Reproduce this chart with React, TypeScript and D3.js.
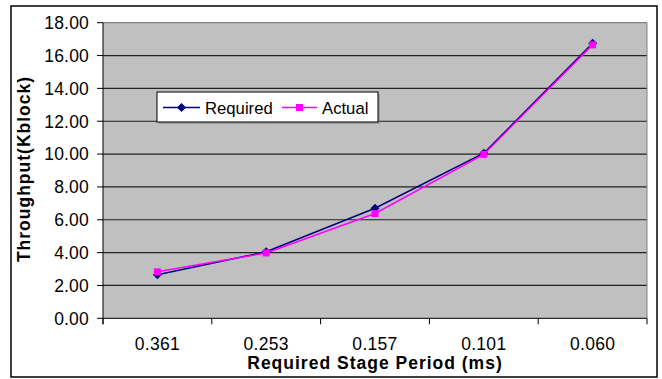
import React from "react";
import * as d3 from "d3";

const categories = ["0.361", "0.253", "0.157", "0.101", "0.060"];
const required = [2.65, 4.05, 6.7, 10.05, 16.75];
const actual = [2.83, 3.98, 6.38, 9.98, 16.65];
const yTicks = [0, 2, 4, 6, 8, 10, 12, 14, 16, 18];

const W = 662;
const H = 379;
const plot = { left: 103, top: 22.7, right: 647, bottom: 318.3 };
const font = "Arial, 'Liberation Sans', sans-serif";

export default function App() {
  const x = d3
    .scaleBand<string>()
    .domain(categories)
    .range([plot.left, plot.right])
    .paddingInner(0)
    .paddingOuter(0);
  const y = d3.scaleLinear().domain([0, 18]).range([plot.bottom, plot.top]);
  const cx = (c: string) => (x(c) as number) + x.bandwidth() / 2;

  const line = d3
    .line<number>()
    .x((_, i) => cx(categories[i]))
    .y((d) => y(d));

  const boundaries = categories.map((c) => x(c) as number).concat([plot.right]);

  const diamond = (px: number, py: number, r: number) =>
    `M${px},${py - r}L${px + r},${py}L${px},${py + r}L${px - r},${py}Z`;

  return (
    <svg
      width={W}
      height={H}
      style={{ position: "absolute", left: 0, top: 0 }}
      fontFamily={font}
    >
      <rect x={0} y={0} width={W} height={H} fill="#fff" />
      <rect x={11} y={6} width={646} height={371} fill="#fff" stroke="#000" strokeWidth={1.5} />
      <rect
        x={plot.left}
        y={plot.top}
        width={plot.right - plot.left}
        height={plot.bottom - plot.top}
        fill="#C0C0C0"
      />
      {yTicks.slice(1).map((t) => (
        <line
          key={t}
          x1={plot.left}
          x2={plot.right}
          y1={y(t)}
          y2={y(t)}
          stroke={t === 18 ? "#808080" : "#222"}
          strokeWidth={1.2}
        />
      ))}
      <line x1={plot.right} x2={plot.right} y1={plot.top} y2={plot.bottom} stroke="#808080" strokeWidth={1} />
      <line x1={plot.left} x2={plot.left} y1={plot.top} y2={plot.bottom + 6} stroke="#000" strokeWidth={1} />
      <line x1={plot.left} x2={plot.right} y1={plot.bottom} y2={plot.bottom} stroke="#000" strokeWidth={1} />
      {yTicks.map((t) => (
        <g key={t}>
          <line x1={plot.left - 6} x2={plot.left} y1={y(t)} y2={y(t)} stroke="#000" />
          <text x={89} y={y(t)} dy="0.36em" textAnchor="end" fontSize={17.5} letterSpacing={0.2} fill="#000">
            {t.toFixed(2)}
          </text>
        </g>
      ))}
      {boundaries.map((b, i) => (
        <line key={i} x1={b} x2={b} y1={plot.bottom} y2={plot.bottom + 6} stroke="#000" />
      ))}
      {categories.map((c) => (
        <text key={c} x={cx(c)} y={349.5} textAnchor="middle" fontSize={17.5} letterSpacing={0.3} fill="#000">
          {c}
        </text>
      ))}
      <text x={375} y={368.5} textAnchor="middle" fontSize={17.5} fontWeight="bold" fill="#000" letterSpacing={1}>
        Required Stage Period (ms)
      </text>
      <text
        transform={`translate(30,169) rotate(-90)`}
        textAnchor="middle"
        fontSize={17.5}
        fontWeight="bold"
        fill="#000"
        letterSpacing={1}
      >
        Throughput(Kblock)
      </text>

      <path d={line(required) || ""} fill="none" stroke="#000080" strokeWidth={1.5} />
      {required.map((v, i) => (
        <path key={i} d={diamond(cx(categories[i]), y(v), 4.5)} fill="#000080" />
      ))}
      <path d={line(actual) || ""} fill="none" stroke="#FF00FF" strokeWidth={1.5} />
      {actual.map((v, i) => (
        <rect key={i} x={cx(categories[i]) - 3.5} y={y(v) - 3.5} width={7} height={7} fill="#FF00FF" />
      ))}

      <rect x={159} y={94} width={221} height={30} fill="#808080" opacity={0.5} />
      <rect x={157} y={92} width={221} height={30} fill="#fff" stroke="#000" strokeWidth={1} />
      <line x1={163} x2={200} y1={107.5} y2={107.5} stroke="#000080" strokeWidth={1.5} />
      <path d={diamond(181.5, 107.5, 4.5)} fill="#000080" />
      <text x={205} y={107.5} dy="0.36em" fontSize={16.7} fill="#000">
        Required
      </text>
      <line x1={282} x2={317} y1={107.5} y2={107.5} stroke="#FF00FF" strokeWidth={1.5} />
      <rect x={296} y={104} width={7} height={7} fill="#FF00FF" />
      <text x={322} y={107.5} dy="0.36em" fontSize={16.7} fill="#000">
        Actual
      </text>
    </svg>
  );
}
